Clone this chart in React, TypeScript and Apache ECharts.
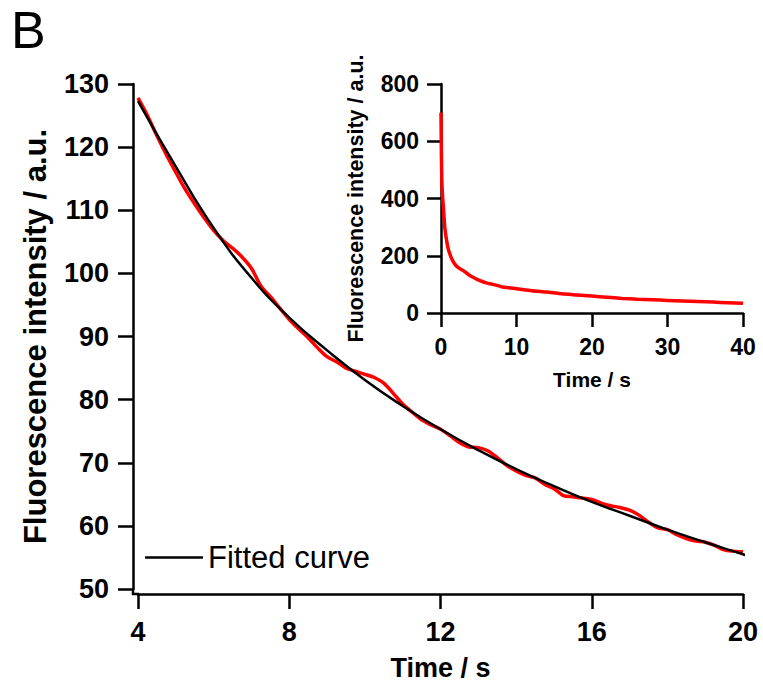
import React, { useEffect, useRef } from "react";
import * as echarts from "echarts";

// Main panel: measured decay (red) and fitted curve (black)
const mainTime = [
  4, 4.25, 4.5, 4.75, 5, 5.25, 5.5, 5.75, 6, 6.25, 6.5, 6.75, 7, 7.25, 7.5, 7.75,
  8, 8.25, 8.5, 8.75, 9, 9.25, 9.5, 9.75, 10, 10.25, 10.5, 10.75, 11, 11.25, 11.5, 11.75,
  12, 12.25, 12.5, 12.75, 13, 13.25, 13.5, 13.75, 14, 14.25, 14.5, 14.75, 15, 15.25, 15.5, 15.75,
  16, 16.25, 16.5, 16.75, 17, 17.25, 17.5, 17.75, 18, 18.25, 18.5, 18.75, 19, 19.25, 19.5, 19.75, 20,
];
const mainIntensity = [
  127.8, 125.0, 121.8, 118.8, 116.0, 113.3, 111.0, 108.8, 106.8, 105.2, 104.0, 102.6, 100.8, 98.0, 96.3, 94.5,
  92.7, 91.2, 89.8, 88.2, 86.8, 86.0, 85.0, 84.5, 84.0, 83.5, 82.6, 81.0, 79.3, 78.0, 76.8, 76.0,
  75.3, 74.3, 73.2, 72.5, 72.4, 71.9, 70.8, 69.6, 68.7, 68.0, 67.6, 66.6, 65.9, 64.8, 64.6, 64.4,
  64.2, 63.6, 63.2, 62.9, 62.5, 61.7, 60.6, 59.7, 59.4, 58.6, 58.0, 57.6, 57.4, 56.9, 56.2, 56.0, 55.9,
];
const fitTime = [4, 5, 6, 7, 8, 9, 10, 11, 12, 13, 14, 15, 16, 17, 18, 19, 20, 20.1];
const fitValues = [127.3, 116.9, 107.2, 99.3, 93.0, 87.8, 83.1, 79.0, 75.3, 72.0, 69.0, 66.3, 63.8, 61.6, 59.4, 57.4, 55.5, 55.3];

// Inset: full decay 0-40 s
const insetTime = [0, 0.05, 0.1, 0.2, 0.3, 0.5, 0.75, 1, 1.5, 2, 2.5, 3, 4, 5, 6, 7, 8, 9, 10, 12, 14, 16, 18, 20, 22, 24, 26, 28, 30, 32, 34, 36, 38, 40];
const insetIntensity = [700, 560, 470, 410, 375, 300, 252, 220, 185, 165, 155, 147, 128, 115, 105, 99, 92, 88, 85, 78, 73, 67, 63, 59, 55, 51, 48, 46, 44, 42, 40, 38, 36, 34];

const mainXTicks = { min: 4, max: 20, interval: 4 };
const mainYTicks = { min: 50, max: 130, interval: 10 };
const insetXTicks = { min: 0, max: 40, interval: 10 };
const insetYTicks = { min: 0, max: 800, interval: 200 };

const FONT = "'Liberation Sans', Arial, Helvetica, sans-serif";

const axisCommon = (fontSize: number, margin: number, tickLen: number) => ({
  axisLine: { show: true, onZero: false, lineStyle: { color: "#000", width: 2.5 } },
  axisTick: { show: true, inside: false, length: tickLen, lineStyle: { color: "#000", width: 2.5 } },
  axisLabel: { color: "#000", fontSize, fontWeight: "bold", fontFamily: FONT, margin },
  splitLine: { show: false },
  nameTextStyle: { color: "#000", fontWeight: "bold", fontFamily: FONT },
});

export default function App() {
  const ref = useRef<HTMLDivElement>(null);
  useEffect(() => {
    if (!ref.current) return;
    const chart = echarts.init(ref.current, null, { renderer: "svg" });
    const zip = (xs: number[], ys: number[]) => xs.map((x, i) => [x, ys[i]]);
    const mx = axisCommon(27, 24, 15);
    const my = axisCommon(27, 24, 15);
    const ix = axisCommon(23, 22, 14);
    const iy = axisCommon(23, 22, 14);
    chart.setOption({
      animation: false,
      backgroundColor: "#fff",
      textStyle: { fontFamily: FONT },
      grid: [
        { left: 138, right: 20, top: 84, bottom: 98 },
        { left: 441, right: 20, top: 84, bottom: 374 },
      ],
      xAxis: [
        {
          type: "value", gridIndex: 0, ...mainXTicks, offset: 5, ...mx,
          name: "Time / s", nameLocation: "middle", nameGap: 60,
          nameTextStyle: { ...mx.nameTextStyle, fontSize: 27 },
        },
        {
          type: "value", gridIndex: 1, ...insetXTicks, ...ix,
          name: "Time / s", nameLocation: "middle", nameGap: 56,
          nameTextStyle: { ...ix.nameTextStyle, fontSize: 21 },
        },
      ],
      yAxis: [
        {
          type: "value", gridIndex: 0, ...mainYTicks, offset: 5, ...my,
          name: "Fluorescence intensity / a.u.", nameLocation: "middle", nameGap: 82, nameRotate: 90,
          nameTextStyle: { ...my.nameTextStyle, fontSize: 31 },
        },
        {
          type: "value", gridIndex: 1, ...insetYTicks, ...iy,
          name: "Fluorescence intensity / a.u.", nameLocation: "middle", nameGap: 74, nameRotate: 90,
          nameTextStyle: { ...iy.nameTextStyle, fontSize: 21.5 },
        },
      ],
      legend: {
        data: [{ name: "Fitted curve", icon: "rect" }],
        left: 140,
        top: 537,
        itemWidth: 58,
        itemHeight: 2.5,
        itemGap: 0,
        itemStyle: { color: "#000" },
        textStyle: { color: "#000", fontSize: 31, fontFamily: FONT, padding: [0, 0, 0, 0] },
      },
      series: [
        {
          name: "Data",
          type: "line",
          xAxisIndex: 0, yAxisIndex: 0,
          data: zip(mainTime, mainIntensity),
          symbol: "none",
          smooth: 0.3,
          lineStyle: { color: "#ff0000", width: 3.5 },
          itemStyle: { color: "#ff0000" },
          z: 2,
        },
        {
          name: "Fitted curve",
          type: "line",
          xAxisIndex: 0, yAxisIndex: 0,
          data: zip(fitTime, fitValues),
          symbol: "none",
          smooth: true,
          clip: false,
          lineStyle: { color: "#000", width: 2.5 },
          itemStyle: { color: "#000" },
          z: 3,
        },
        {
          name: "Inset",
          type: "line",
          xAxisIndex: 1, yAxisIndex: 1,
          data: zip(insetTime, insetIntensity),
          symbol: "none",
          smooth: 0.2,
          lineStyle: { color: "#ff0000", width: 3.5 },
          itemStyle: { color: "#ff0000" },
        },
      ],
      graphic: [
        {
          type: "text", left: 11, top: 4,
          style: { text: "B", fontSize: 52, fontFamily: FONT, fill: "#000" },
        },
        {
          type: "polyline",
          shape: { points: [[133, 588], [133, 594], [139, 594]] },
          style: { stroke: "#000", lineWidth: 2.5, fill: "none" },
        },
      ],
    });
    return () => chart.dispose();
  }, []);
  return <div ref={ref} style={{ position: "fixed", left: 0, top: 0, width: 763, height: 687 }} />;
}
